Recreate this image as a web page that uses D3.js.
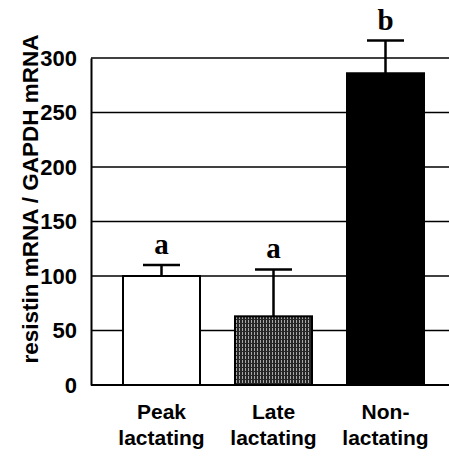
<!DOCTYPE html>
<html>
<head>
<meta charset="utf-8">
<script src="https://cdn.jsdelivr.net/npm/d3@7"></script>
<style>
  html, body { margin: 0; padding: 0; background: #fff; }
  svg { display: block; }
</style>
</head>
<body>
<div id="chart"></div>
<script>
const categories = [["Peak", "lactating"], ["Late", "lactating"], ["Non-", "lactating"]];
const means = [100, 63, 286];
const errors = [10, 43, 30];
const letters = ["a", "a", "b"];
const yTicks = [0, 50, 100, 150, 200, 250, 300];

const width = 449;
const height = 457;
const plot = { left: 91, right: 449, top: 58, bottom: 385 };
const sans = "Liberation Sans, Arial, sans-serif";

const svg = d3.select("#chart")
  .append("svg")
  .attr("width", width)
  .attr("height", height);

const defs = svg.append("defs");
const pattern = defs.append("pattern")
  .attr("id", "stipple")
  .attr("patternUnits", "userSpaceOnUse")
  .attr("width", 3)
  .attr("height", 4);
pattern.append("rect").attr("width", 3).attr("height", 4).attr("fill", "#262626");
pattern.append("rect").attr("x", 2).attr("width", 1).attr("height", 3).attr("fill", "#a8a8a8");

const x = d3.scaleBand()
  .domain(d3.range(categories.length))
  .range([105.5, 441.5])
  .paddingInner(0.3125)
  .paddingOuter(0.15625);

const y = d3.scaleLinear()
  .domain([0, 300])
  .range([plot.bottom, plot.top]);

// gridlines
svg.append("g")
  .selectAll("line")
  .data(yTicks)
  .join("line")
  .attr("x1", plot.left)
  .attr("x2", plot.right)
  .attr("y1", (d) => y(d))
  .attr("y2", (d) => y(d))
  .attr("stroke", "#000")
  .attr("stroke-width", (d) => (d === 0 ? 2 : 1.5));

// left axis
const axis = svg.append("g")
  .attr("transform", `translate(${plot.left},0)`)
  .call(d3.axisLeft(y).tickValues(yTicks).tickSize(0).tickPadding(14));
axis.select(".domain").attr("stroke", "#000").attr("stroke-width", 2);
axis.selectAll("text")
  .attr("font-family", sans)
  .attr("font-weight", "bold")
  .attr("font-size", 22)
  .attr("fill", "#000");

// bars
const fills = ["#fff", "url(#stipple)", "#000"];
svg.append("g")
  .selectAll("rect")
  .data(means)
  .join("rect")
  .attr("x", (d, i) => x(i))
  .attr("y", (d) => y(d))
  .attr("width", x.bandwidth())
  .attr("height", (d) => y(0) - y(d))
  .attr("fill", (d, i) => fills[i])
  .attr("stroke", "#000")
  .attr("stroke-width", 2);

// error bars
const err = svg.append("g").attr("stroke", "#000").attr("stroke-width", 2.5);
means.forEach((m, i) => {
  const cx = x(i) + x.bandwidth() / 2;
  err.append("line")
    .attr("x1", cx).attr("x2", cx)
    .attr("y1", y(m)).attr("y2", y(m + errors[i]));
  err.append("line")
    .attr("x1", cx - 18.5).attr("x2", cx + 18.5)
    .attr("y1", y(m + errors[i])).attr("y2", y(m + errors[i]));
});

// significance letters
svg.append("g")
  .selectAll("text")
  .data(letters)
  .join("text")
  .attr("x", (d, i) => x(i) + x.bandwidth() / 2)
  .attr("y", (d, i) => y(means[i] + errors[i]) - 11)
  .attr("text-anchor", "middle")
  .attr("font-family", "Liberation Serif, Times New Roman, serif")
  .attr("font-weight", "bold")
  .attr("font-size", 29)
  .attr("fill", "#000")
  .text((d) => d);

// category labels
const cat = svg.append("g")
  .attr("font-family", sans)
  .attr("font-weight", "bold")
  .attr("font-size", 21)
  .attr("fill", "#000")
  .attr("text-anchor", "middle");
categories.forEach((lines, i) => {
  const cx = x(i) + x.bandwidth() / 2;
  lines.forEach((t, j) => {
    cat.append("text")
      .attr("x", cx)
      .attr("y", 419 + j * 26)
      .text(t);
  });
});

// y title
svg.append("text")
  .attr("transform", `translate(38,199) rotate(-90)`)
  .attr("text-anchor", "middle")
  .attr("font-family", sans)
  .attr("font-weight", "bold")
  .attr("font-size", 22.5)
  .attr("fill", "#000")
  .text("resistin mRNA / GAPDH mRNA");
</script>
</body>
</html>
